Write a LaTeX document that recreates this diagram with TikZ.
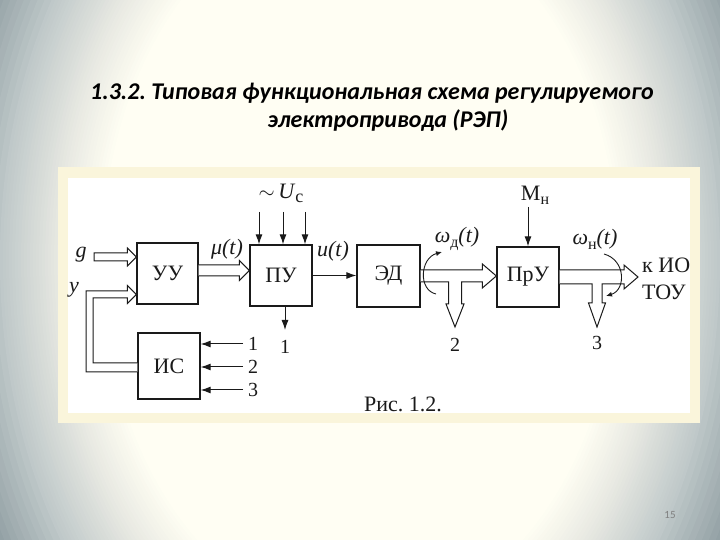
\documentclass[tikz,border=0pt]{standalone}
\usepackage{fontspec}
\setmainfont{Liberation Serif}
\newfontfamily\titlefont{Carlito}
\usetikzlibrary{arrows.meta,calc}
\frenchspacing
\definecolor{bgc}{HTML}{FFFEF3}
\definecolor{bgm}{HTML}{E9EAE3}
\definecolor{bgg}{HTML}{BFC8C9}
\definecolor{bgd}{HTML}{8E9DA1}
\definecolor{panelbd}{HTML}{FAF5DB}
\definecolor{ink}{HTML}{1A1A1A}
\newcommand\hollowR[6]{\draw[hollow] let \p1=(#1), \p2=(#2) in (\x1,\y1+#3) -- (\x2-#5,\y1+#3) -- (\x2-#5,\y1+#4) -- (\x2,\y1) -- (\x2-#5,\y1-#4) -- (\x2-#5,\y1-#3) -- (\x1,\y1-#3) #6;}
\tikzset{
  blk/.style={draw=ink, line width=1.3pt, fill=white, inner sep=0pt, text=ink, font=\fontsize{22}{24}\selectfont},
  hollow/.style={draw=ink, line width=1pt, fill=white, line join=miter},
  conn/.style={draw=ink, line width=1pt, -{Latex[length=10pt,width=7pt]}},
  curv/.style={draw=ink, line width=0.9pt, -{Latex[length=6pt,width=5pt]}},
  lbl/.style={inner sep=0pt, text=ink, font=\fontsize{22}{24}\selectfont},
  ilbl/.style={inner sep=0pt, text=ink, font=\fontsize{22}{24}\selectfont\itshape},
  num/.style={inner sep=0pt, text=ink, font=\fontsize{20}{22}\selectfont},
  ttl/.style={inner sep=0pt, text=black, font=\titlefont\bfseries\itshape\fontsize{24}{28}\selectfont},
}
\begin{document}
\begin{tikzpicture}[x=1pt,y=1pt]
\useasboundingbox (0,0) rectangle (720,540);
% background: elliptical gradient
\begin{scope}
\clip (0,0) rectangle (720,540);
\fill[bgd] (0,0) rectangle (720,540);
\foreach \k in {1.40,1.38,...,1.19}{%
  \pgfmathsetmacro\pc{max(0,min(100,(\k-1.2)/0.2*100))}
  \fill[bgd!\pc!bgg] (360,280) ellipse [x radius=300*\k, y radius=420*\k];}
\foreach \k in {1.19,1.18,...,0.995}{%
  \pgfmathsetmacro\pc{max(0,min(100,(\k-1.0)/0.2*100))}
  \fill[bgg!\pc!bgm] (360,280) ellipse [x radius=300*\k, y radius=420*\k];}
\foreach \k in {0.99,0.98,...,0.855}{%
  \pgfmathsetmacro\pc{max(0,min(100,(\k-0.86)/0.14*100))}
  \fill[bgm!\pc!bgc] (360,280) ellipse [x radius=300*\k, y radius=420*\k];}
\end{scope}
% title
\node[ttl] (t1) at (372,447) {1.3.2. Типовая функциональная схема регулируемого};
\node[ttl] (t2) at (388,419) {электропривода (РЭП)};
% panel
\fill[panelbd] (58,117) rectangle (700,373);
\fill[white] (68,127) rectangle (690,362);
% blocks
\node[blk, minimum width=61pt, minimum height=61pt] (uu) at (167.5,266.5) {УУ};
\node[blk, minimum width=62pt, minimum height=61pt] (pu) at (281,264.5) {ПУ};
\node[blk, minimum width=63pt, minimum height=62pt] (ed) at (388.5,264) {ЭД};
\node[blk, minimum width=62pt, minimum height=60pt] (pry) at (528,263) {ПрУ};
\node[blk, minimum width=62pt, minimum height=66pt] (is) at (169,174) {ИС};
% coordinates
\coordinate (gs) at (94,283);
\coordinate (uc1) at (259,328);
\coordinate (uc2) at (283,328);
\coordinate (uc3) at (305,328);
\coordinate (o1) at (285,210);
\coordinate (mn) at (528,333);
\coordinate (i1) at (243,196);
\coordinate (i2) at (243,173);
\coordinate (i3) at (243,150);
\coordinate (b2) at (455,213);
\coordinate (b3) at (597,213);
\coordinate (outtip) at (638,263);
% hollow arrows
\hollowR{gs}{uu.west}{4pt}{9pt}{9pt}{-- cycle}
\hollowR{$(uu.east)+(0,3)$}{pu.west}{5.5pt}{10pt}{10pt}{}
% feedback y
\draw[hollow] let \p1=(is.west), \p2=(uu.west) in
  (\x1,\y1+3pt) -- (93pt,\y1+3pt) -- (93pt,\y2-24.5pt) -- (\x2-9pt,\y2-24.5pt) -- (\x2-9pt,\y2-30pt) -- (\x2,\y2-21pt) -- (\x2-9pt,\y2-12pt) -- (\x2-9pt,\y2-17.5pt) -- (86pt,\y2-17.5pt) -- (86pt,\y1-6pt) -- (\x1,\y1-6pt);
% ED -> PrU with branch 2
\draw[hollow] let \p1=(ed.east), \p2=(pry.west), \p3=(b2) in
  (\x1,\y1+6pt) -- (\x2-14pt,\y1+6pt) -- (\x2-14pt,\y1+12pt) -- (\x2,\y1) -- (\x2-14pt,\y1-12pt) -- (\x2-14pt,\y1-6pt)
  -- (\x3+6.5pt,\y1-6pt) -- (\x3+6.5pt,\y3+23pt) -- (\x3+9pt,\y3+23pt) -- (\x3,\y3) -- (\x3-9pt,\y3+23pt) -- (\x3-6.5pt,\y3+23pt) -- (\x3-6.5pt,\y1-6pt) -- (\x1,\y1-6pt);
% PrU -> out with branch 3
\draw[hollow] let \p1=(pry.east), \p2=(outtip), \p3=(b3) in
  (\x1,\y1+7pt) -- (\x2-14pt,\y1+7pt) -- (\x2-14pt,\y1+12pt) -- (\x2,\y1) -- (\x2-14pt,\y1-12pt) -- (\x2-14pt,\y1-7pt)
  -- (\x3+5pt,\y1-7pt) -- (\x3+5pt,\y3+24pt) -- (\x3+8.5pt,\y3+24pt) -- (\x3,\y3) -- (\x3-8.5pt,\y3+24pt) -- (\x3-5pt,\y3+24pt) -- (\x3-5pt,\y1-7pt) -- (\x1,\y1-7pt);
% simple arrows
\draw[conn] (pu.east) -- (pu.east -| ed.west);
\draw[conn] (uc1) -- (uc1 |- pu.north);
\draw[conn] (uc2) -- (uc2 |- pu.north);
\draw[conn] (uc3) -- (uc3 |- pu.north);
\draw[conn] (o1 |- pu.south) -- (o1);
\draw[conn] (mn) -- (pry.north);
\draw[conn] (i1) -- (i1 -| is.east);
\draw[conn] (i2) -- (i2 -| is.east);
\draw[conn] (i3) -- (i3 -| is.east);
% curved arrows
\coordinate (cd1) at (436,246);
\coordinate (cd2) at (442,288);
\coordinate (cn1) at (604,286);
\coordinate (cn2) at (606,244);
\draw[curv] (cd1) .. controls (418,250) and (420,282) .. (cd2);
\draw[curv] (cn1) .. controls (626,280) and (626,250) .. (cn2);
% labels
\node[ilbl] (gl) at (81,285) {g};
\node[ilbl] (yl) at (74,250) {y};
\node[ilbl] (mul) at (227,291) {μ(t)};
\node[ilbl] (ul) at (333,289) {u(t)};
\node[lbl] (ucl) at (281,347) {$\sim$\,\textit{U}\raisebox{-4pt}{\fontsize{18}{18}\selectfont c}};
\node[lbl] (mnl) at (535,345) {M\raisebox{-4pt}{\fontsize{16}{16}\selectfont н}};
\node[lbl] (wdl) at (457,301) {\textit{ω}\raisebox{-5pt}{\fontsize{16}{16}\selectfont д}\textit{(t)}};
\node[lbl] (wnl) at (595,301) {\textit{ω}\raisebox{-5pt}{\fontsize{16}{16}\selectfont н}\textit{(t)}};
\node[num] (n1) at (285,193) {1};
\node[num] (n2) at (455,195) {2};
\node[num] (n3) at (597,197) {3};
\node[num] (ni1) at (253,196) {1};
\node[num] (ni2) at (253,173) {2};
\node[num] (ni3) at (253,150) {3};
\node[lbl, anchor=west] (kio) at (642,275) {к ИО};
\node[lbl, anchor=west] (tou) at (642,248) {ТОУ};
\node[lbl] (cap) at (403,136) {Рис. 1.2.};
\node[inner sep=0pt, text=gray, font=\titlefont\fontsize{11}{12}\selectfont] (pg) at (670,25) {15};
\end{tikzpicture}
\end{document}
